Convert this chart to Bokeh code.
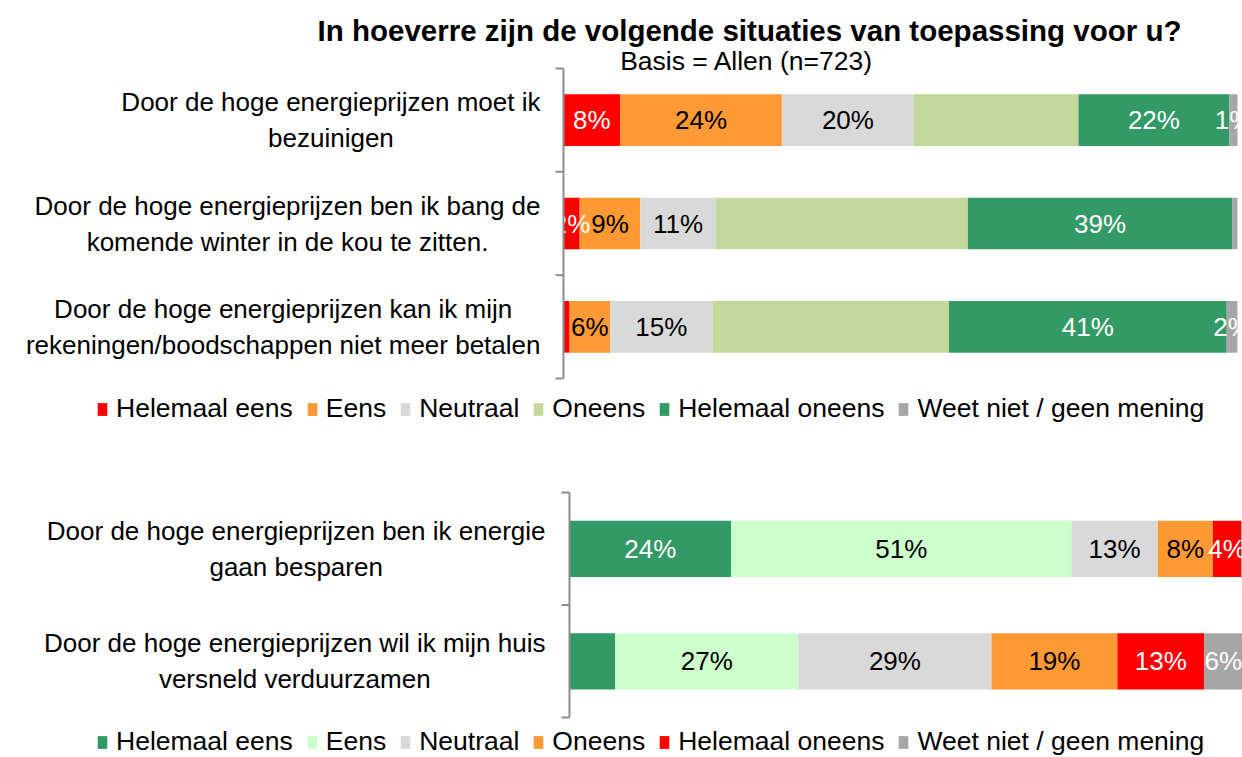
from bokeh.plotting import figure
from bokeh.models import ColumnDataSource, Range1d, Legend, LegendItem
from bokeh.layouts import column
from bokeh.core.properties import value
from bokeh.embed import file_html
from bokeh.resources import INLINE

FONT = "Liberation Sans"

title_text = "In hoeverre zijn de volgende situaties van toepassing voor u?"
subtitle_text = "Basis = Allen  (n=723)"

# ---------------- panel 1 data ----------------
p1_categories = [
    "Door de hoge energieprijzen moet ik\nbezuinigen",
    "Door de hoge energieprijzen ben ik bang de\nkomende winter in de kou te zitten.",
    "Door de hoge energieprijzen kan ik mijn\nrekeningen/boodschappen niet meer betalen",
]
p1_series = ["Helemaal eens", "Eens", "Neutraal", "Oneens", "Helemaal oneens",
             "Weet niet / geen mening"]
p1_helemaal_eens = [8.4, 2.4, 0.9]
p1_eens = [24.0, 9.0, 6.0]
p1_neutraal = [19.6, 11.2, 15.2]
p1_oneens = [24.4, 37.4, 35.1]
p1_helemaal_oneens = [22.4, 39.2, 41.2]
p1_weet_niet = [1.2, 0.8, 1.6]
p1_unlabelled = [("Oneens", 0), ("Oneens", 1), ("Oneens", 2)]

# ---------------- panel 2 data ----------------
p2_categories = [
    "Door de hoge energieprijzen ben ik energie\ngaan besparen",
    "Door de hoge energieprijzen wil ik mijn huis\nversneld verduurzamen",
]
p2_series = ["Helemaal eens", "Eens", "Neutraal", "Oneens", "Helemaal oneens",
             "Weet niet / geen mening"]
p2_helemaal_eens = [24.0, 6.8]
p2_eens = [50.6, 27.2]
p2_neutraal = [12.8, 28.7]
p2_oneens = [8.2, 18.7]
p2_helemaal_oneens = [4.2, 12.9]
p2_weet_niet = [0.2, 5.7]
p2_unlabelled = [("Helemaal eens", 1)]

# styles
p1_colors = ["#FF0000", "#FF9933", "#D9D9D9", "#C4D79B", "#339966", "#A6A6A6"]
p1_text_colors = ["white", "black", "black", "black", "white", "white"]
p2_colors = ["#339966", "#CCFFCC", "#D9D9D9", "#FF9933", "#FF0000", "#A6A6A6"]
p2_text_colors = ["white", "black", "black", "black", "white", "white"]

W = 1242
FS = "26px"
AXIS_COLOR = "#8C8C8C"


class Geo:
    """pixel geometry of one panel (figure pixels, top-left origin)"""
    def __init__(self, height, axis_x, band_top, band_bottom, n, pxu):
        self.height = height
        self.axis_x = axis_x
        self.pxu = pxu
        self.pyu = (band_bottom - band_top) / n
        self.band_top = band_top
        self.n = n

    def x(self, fx):
        return (fx - self.axis_x) / self.pxu

    def y(self, fy):
        return -0.5 + (fy - self.band_top) / self.pyu


def build_panel(categories, series, values, colors, text_colors, unlabelled,
                geo, label_right, legend_left, legend_bottom_px):
    n = len(categories)
    ys = list(range(n))
    p = figure(width=W, height=geo.height, output_backend="svg", toolbar_location=None,
               x_range=Range1d(geo.x(0), geo.x(W)),
               y_range=Range1d(geo.y(geo.height), geo.y(0)),
               x_axis_location=None, y_axis_location=None,
               min_border=0)
    p.outline_line_color = None
    p.grid.visible = False

    data = {"y": ys}
    for s, v in zip(series, values):
        data[s] = v
    src = ColumnDataSource(data)
    rends = p.hbar_stack(series, y="y", height=0.5, color=colors, line_color=None,
                         source=src)

    # segment labels
    lx, ly, lt, lc = [], [], [], []
    for i in range(n):
        cum = 0.0
        for s, v, tc in zip(series, values, text_colors):
            val = v[i]
            if val >= 1 and (s, i) not in unlabelled:
                lx.append(cum + val / 2)
                ly.append(i)
                lt.append(f"{round(val)}%")
                lc.append(tc)
            cum += val
    lsrc = ColumnDataSource(dict(x=lx, y=ly, text=lt, color=lc))
    p.text(x="x", y="y", text="text", text_color="color", source=lsrc,
           text_align="center", text_baseline="middle",
           text_font=value(FONT), text_font_size=FS)

    # vertical category axis with boundary ticks
    bounds = [k - 0.5 for k in range(n + 1)]
    p.segment(x0=[0], y0=[bounds[0]], x1=[0], y1=[bounds[-1]],
              line_color=AXIS_COLOR, line_width=2)
    tick_len = 8 / geo.pxu
    p.segment(x0=[-tick_len] * len(bounds), y0=bounds, x1=[0] * len(bounds), y1=bounds,
              line_color=AXIS_COLOR, line_width=2)

    # category labels
    csrc = ColumnDataSource(dict(x=[geo.x(label_right)] * n, y=ys, text=categories))
    p.text(x="x", y="y", text="text", source=csrc, anchor="center_right",
           text_align="center", text_baseline="middle", text_color="black",
           text_font=value(FONT), text_font_size=FS, text_line_height=1.2)

    items = [LegendItem(label=s, renderers=[r]) for s, r in zip(series, rends)]
    leg = Legend(items=items, orientation="horizontal",
                 location=(legend_left, geo.height - legend_bottom_px),
                 label_text_font=FONT, label_text_font_size="26.5px",
                 label_text_color="black",
                 glyph_width=12, glyph_height=16, label_standoff=8, spacing=13,
                 padding=0, margin=0, border_line_color=None,
                 background_fill_alpha=0)
    p.add_layout(leg)
    return p


# ---------- figure 1 ----------
g1 = Geo(height=432, axis_x=563, band_top=68, band_bottom=378, n=3, pxu=6.74)
p1 = build_panel(
    p1_categories, p1_series,
    [p1_helemaal_eens, p1_eens, p1_neutraal, p1_oneens, p1_helemaal_oneens, p1_weet_niet],
    p1_colors, p1_text_colors, p1_unlabelled,
    g1, label_right=540, legend_left=96, legend_bottom_px=424)

p1.text(x=[g1.x(749)], y=[g1.y(30)], text=[title_text], text_align="center",
        text_baseline="middle", text_font=value(FONT), text_font_size="29.5px",
        text_font_style="bold", text_color="black")
p1.text(x=[g1.x(750)], y=[g1.y(60)], text=[subtitle_text], text_align="center",
        text_baseline="middle", text_font=value(FONT), text_font_size="26.5px",
        text_color="black")

# ---------- figure 2 ----------
g2 = Geo(height=325, axis_x=569, band_top=60, band_bottom=285, n=2, pxu=6.73)
p2 = build_panel(
    p2_categories, p2_series,
    [p2_helemaal_eens, p2_eens, p2_neutraal, p2_oneens, p2_helemaal_oneens, p2_weet_niet],
    p2_colors, p2_text_colors, p2_unlabelled,
    g2, label_right=545, legend_left=96, legend_bottom_px=325)

layout = column(p1, p2, spacing=0)
open("out.html", "w").write(file_html(layout, INLINE))
